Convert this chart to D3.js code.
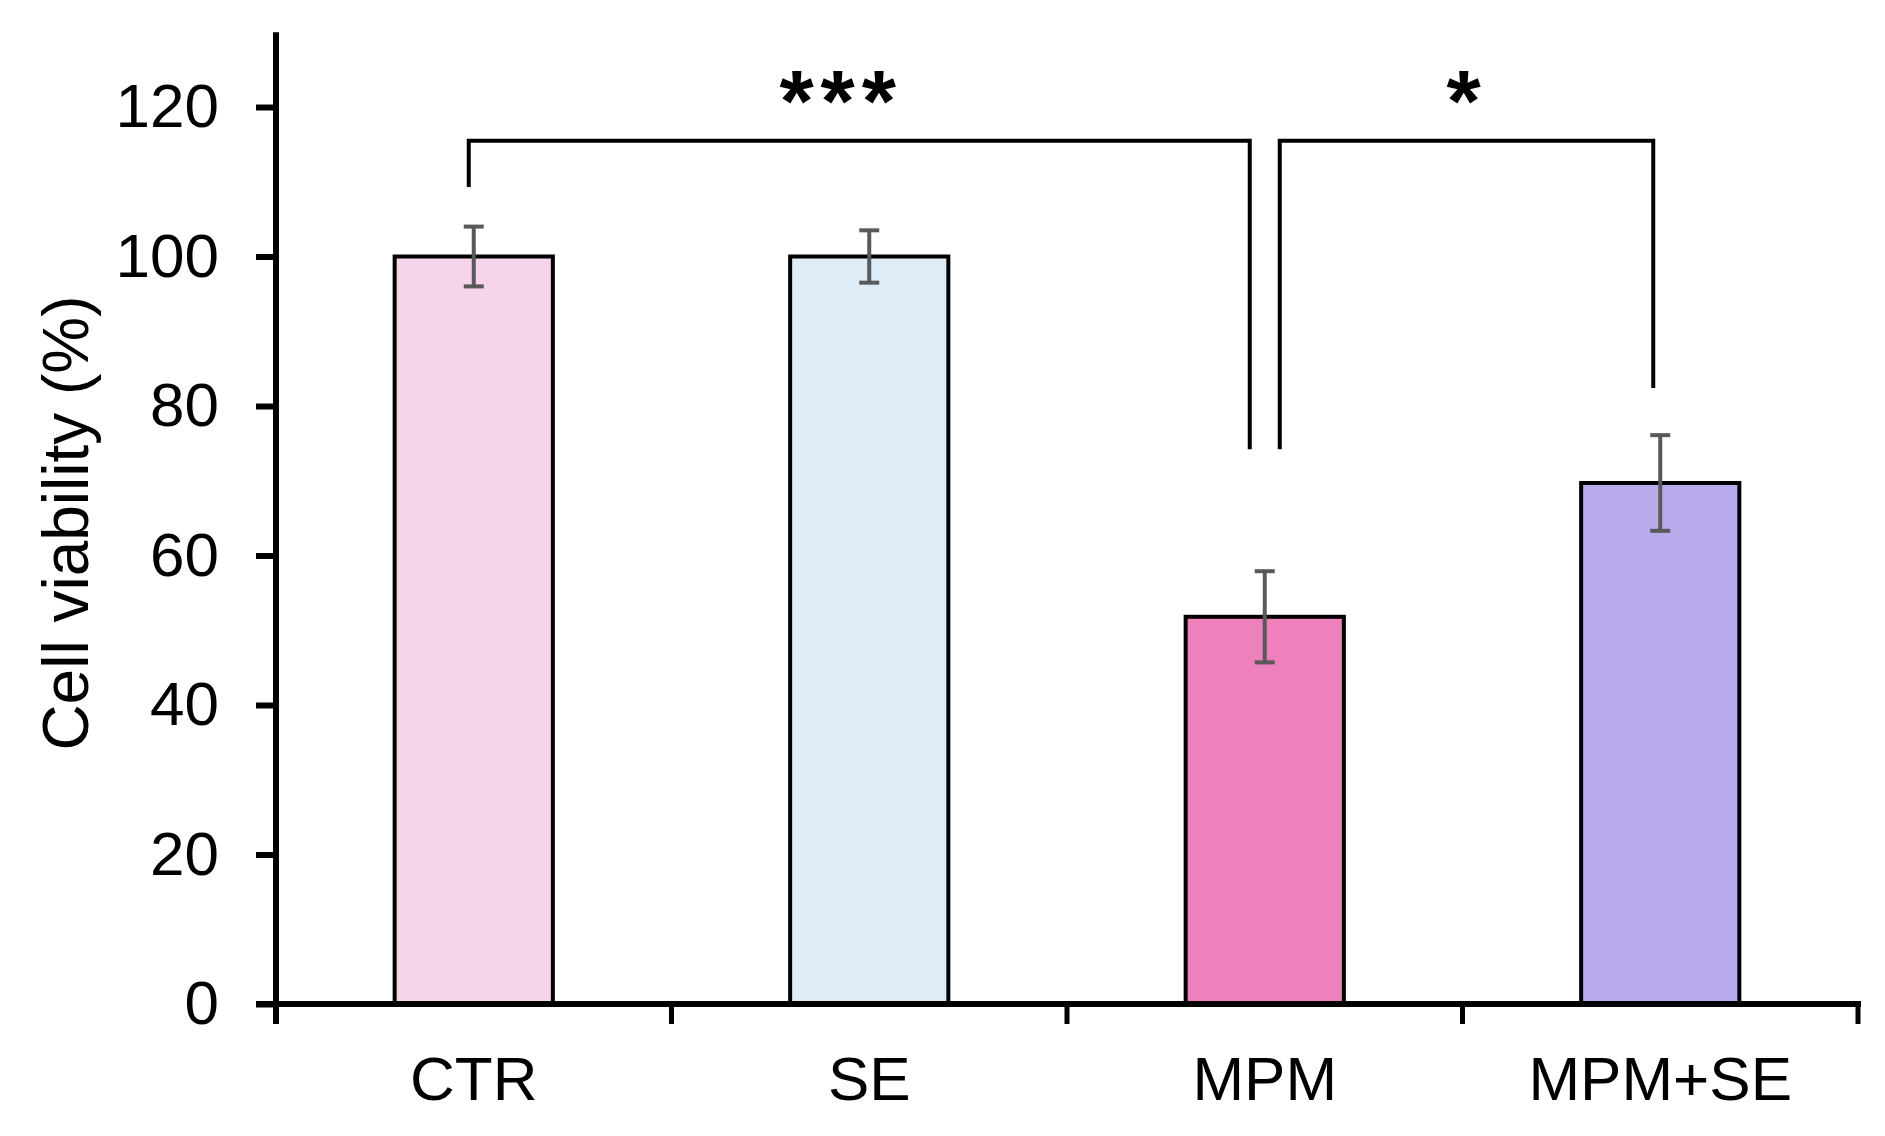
<!DOCTYPE html>
<html>
<head>
<meta charset="utf-8">
<script src="https://cdn.jsdelivr.net/npm/d3@7"></script>
<style>
  html, body { margin: 0; padding: 0; background: #ffffff; }
  svg { display: block; }
  text { font-family: "Liberation Sans", Arial, sans-serif; fill: #000; }
</style>
</head>
<body>
<svg id="chart" width="1885" height="1136"></svg>
<script>
// ---- data ----
const categories = ["CTR", "SE", "MPM", "MPM+SE"];
const viability = [100, 100, 51.8, 69.7];
const errors = [4.0, 3.5, 6.1, 6.4];
const barColors = ["#f6d4e9", "#ddecf7", "#ee80bb", "#b9aaec"];
const yTicks = [0, 20, 40, 60, 80, 100, 120];
const yLabel = "Cell viability (%)";
const comparisons = [
  { from: "CTR", to: "MPM", label: "***" },
  { from: "MPM", to: "MPM+SE", label: "*" }
];

// ---- layout ----
const svg = d3.select("#chart");
const x0 = 276, x1 = 1858, yBase = 1004, pxPerUnit = 7.475;

const x = d3.scaleBand().domain(categories).range([x0, x1]).paddingInner(0).paddingOuter(0);
const y = d3.scaleLinear().domain([0, 130]).range([yBase, yBase - 130 * pxPerUnit]);
const barW = x.bandwidth() * 0.4;
const cx = c => x(c) + x.bandwidth() / 2;

// bars
svg.append("g").selectAll("rect").data(categories).join("rect")
  .attr("x", c => cx(c) - barW / 2)
  .attr("y", (c, i) => y(viability[i]))
  .attr("width", barW)
  .attr("height", (c, i) => y(0) - y(viability[i]))
  .attr("fill", (c, i) => barColors[i])
  .attr("stroke", "#000")
  .attr("stroke-width", 4);

// error bars
const eb = svg.append("g").attr("stroke", "#595959").attr("stroke-width", 4);
categories.forEach((c, i) => {
  const hi = y(viability[i] + errors[i]), lo = y(viability[i] - errors[i]);
  eb.append("line").attr("x1", cx(c)).attr("x2", cx(c)).attr("y1", hi).attr("y2", lo);
  eb.append("line").attr("x1", cx(c) - 10).attr("x2", cx(c) + 10).attr("y1", hi).attr("y2", hi);
  eb.append("line").attr("x1", cx(c) - 10).attr("x2", cx(c) + 10).attr("y1", lo).attr("y2", lo);
});

// y axis
const yAxis = d3.axisLeft(y).tickValues(yTicks).tickSize(20).tickPadding(37).tickSizeOuter(0);
const gy = svg.append("g").attr("transform", `translate(${x0},0)`).call(yAxis);
gy.select(".domain").remove();
gy.append("line").attr("x1", 0).attr("x2", 0).attr("y1", y(130)).attr("y2", yBase + 20)
  .attr("stroke", "#000").attr("stroke-width", 6);
gy.selectAll(".tick line").attr("stroke", "#000").attr("stroke-width", 6);
gy.selectAll(".tick text").attr("font-size", 62).attr("fill", "#000")
  .style("font-family", '"Liberation Sans", Arial, sans-serif');

// x axis
const gx = svg.append("g").attr("transform", `translate(0,${yBase})`);
gx.append("line").attr("x1", x0 - 20).attr("x2", x1 + 3).attr("y1", 0).attr("y2", 0)
  .attr("stroke", "#000").attr("stroke-width", 6);
const boundaries = categories.map(c => x(c)).concat([x1]);
gx.selectAll("line.bt").data(boundaries.slice(1)).join("line").attr("class", "bt")
  .attr("x1", d => d).attr("x2", d => d).attr("y1", 0).attr("y2", 20)
  .attr("stroke", "#000").attr("stroke-width", 5);
gx.selectAll("text").data(categories).join("text")
  .attr("x", c => cx(c)).attr("y", 96)
  .attr("text-anchor", "middle").attr("font-size", 62)
  .text(c => c);

// y label
svg.append("text")
  .attr("transform", "translate(88,523) rotate(-90)")
  .attr("text-anchor", "middle").attr("font-size", 64)
  .text(yLabel);

// significance brackets
const bracketY = y(115.5);
const br = svg.append("g").attr("stroke", "#000").attr("stroke-width", 4).attr("fill", "none");
const legs = [
  { l: cx("CTR") - 5, r: cx("MPM") - 15, lb: y(109.3), rb: y(74.2), sx: -18 },
  { l: cx("MPM") + 15, r: cx("MPM+SE") - 7, lb: y(74.2), rb: y(82.4), sx: -3 }
];
comparisons.forEach((cmp, i) => {
  const g = legs[i];
  br.append("path").attr("d", `M${g.l},${g.lb}V${bracketY}H${g.r}V${g.rb}`);
  svg.append("text")
    .attr("x", (g.l + g.r) / 2 + g.sx).attr("y", 131)
    .attr("text-anchor", "middle").attr("font-size", 88).attr("font-weight", "bold")
    .attr("letter-spacing", cmp.label.length > 1 ? 7 : 0)
    .text(cmp.label);
});
</script>
</body>
</html>
